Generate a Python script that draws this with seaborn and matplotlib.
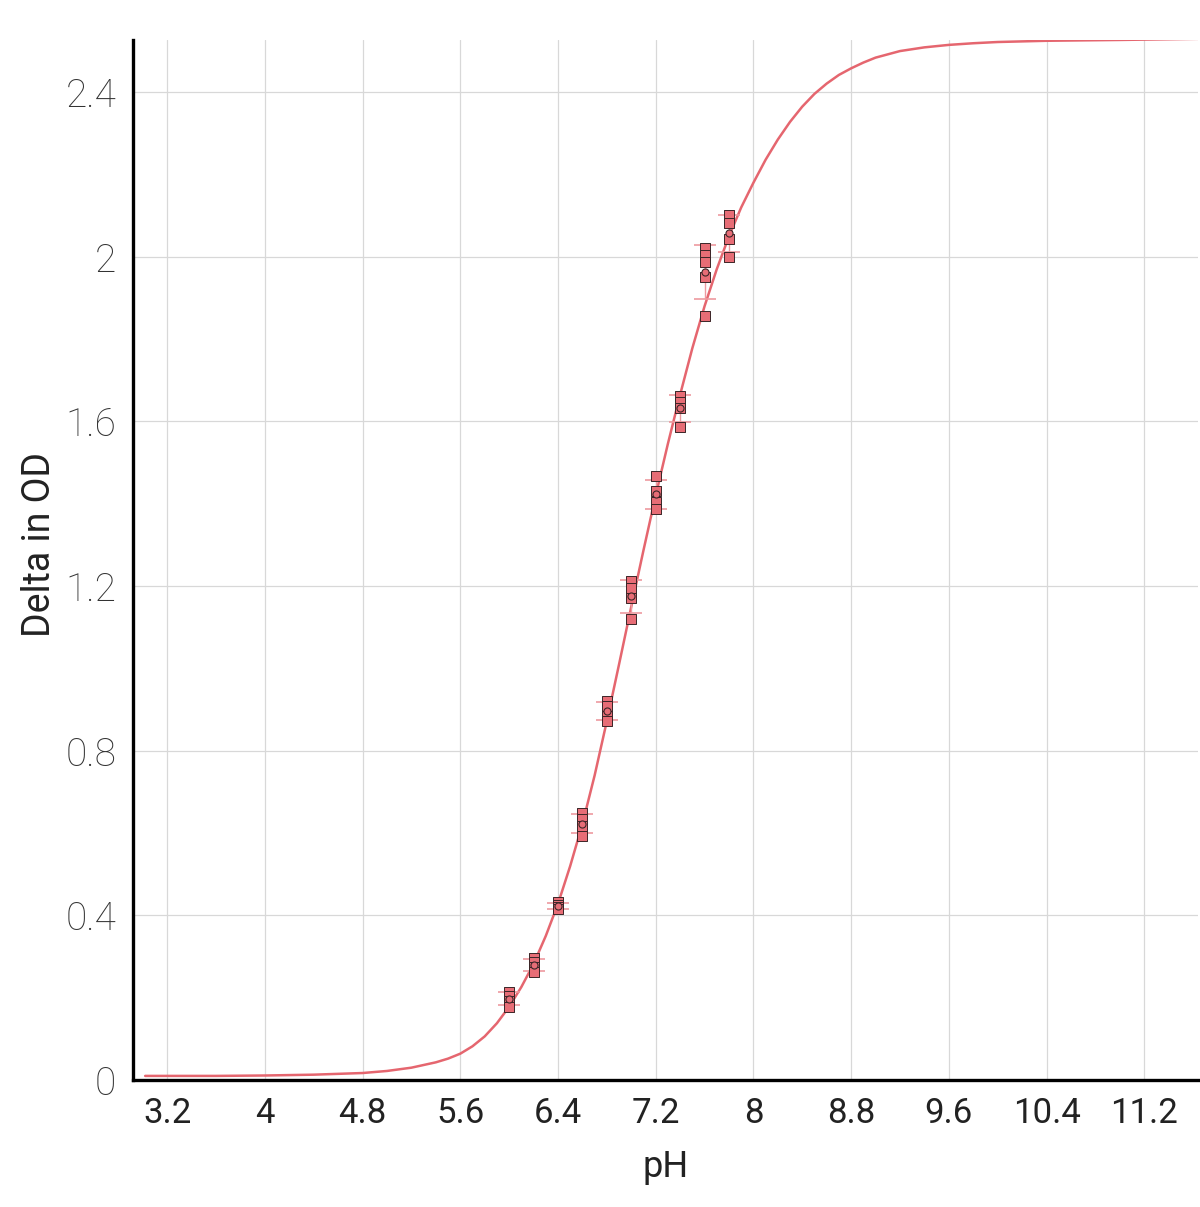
import numpy as np
import pandas as pd
import matplotlib
matplotlib.use("Agg")
import matplotlib.pyplot as plt
import seaborn as sns

# ---- data ----
ph_levels = [6.0, 6.2, 6.4, 6.6, 6.8, 7.0, 7.2, 7.4, 7.6, 7.8]
replicates = [
    [0.215, 0.205, 0.193, 0.178],
    [0.296, 0.287, 0.275, 0.262],
    [0.432, 0.426, 0.420, 0.416],
    [0.648, 0.634, 0.618, 0.592],
    [0.922, 0.908, 0.884, 0.872],
    [1.213, 1.195, 1.172, 1.120],
    [1.468, 1.430, 1.405, 1.388],
    [1.662, 1.648, 1.633, 1.586],
    [2.022, 2.004, 1.988, 1.950, 1.856],
    [2.102, 2.083, 2.043, 2.000],
]

curve_ph = [3.02, 3.6, 4.0, 4.4, 4.8, 5.0, 5.2, 5.4, 5.5, 5.6, 5.7, 5.8, 5.9,
            6.0, 6.1, 6.2, 6.3, 6.4, 6.5, 6.6, 6.7, 6.8, 6.9, 7.0, 7.1, 7.2,
            7.3, 7.4, 7.5, 7.6, 7.7, 7.8, 7.9, 8.0, 8.1, 8.2, 8.3, 8.4, 8.5,
            8.6, 8.7, 8.8, 8.9, 9.0, 9.2, 9.4, 9.6, 9.8, 10.0, 10.4, 11.0, 11.7]
curve_od = [0.010, 0.010, 0.011, 0.013, 0.017, 0.022, 0.030, 0.043, 0.052,
            0.064, 0.082, 0.106, 0.138, 0.178, 0.226, 0.282, 0.350, 0.428,
            0.520, 0.622, 0.740, 0.872, 1.010, 1.150, 1.287, 1.420, 1.546,
            1.665, 1.778, 1.880, 1.970, 2.050, 2.120, 2.180, 2.236, 2.285,
            2.328, 2.365, 2.396, 2.421, 2.442, 2.458, 2.472, 2.484, 2.500,
            2.509, 2.515, 2.519, 2.522, 2.525, 2.527, 2.530]

x_ticks = [3.2, 4.0, 4.8, 5.6, 6.4, 7.2, 8.0, 8.8, 9.6, 10.4, 11.2]
x_labels = ["3.2", "4", "4.8", "5.6", "6.4", "7.2", "8", "8.8", "9.6", "10.4", "11.2"]
y_ticks = [0, 0.4, 0.8, 1.2, 1.6, 2.0, 2.4]
y_labels = ["0", "0.4", "0.8", "1.2", "1.6", "2", "2.4"]

# ---- build tables ----
rows = []
for p, vals in zip(ph_levels, replicates):
    for v in vals:
        rows.append({"pH": p, "od": v})
df = pd.DataFrame(rows)
summary = df.groupby("pH")["od"].agg(["mean", "std"]).reset_index()
curve = pd.DataFrame({"pH": curve_ph, "od": curve_od})

sns.set_theme(style="white")
plt.rcParams["font.family"] = ["Roboto", "DejaVu Sans"]

red = "#e5666f"
edge = "#3b2527"

fig = plt.figure(figsize=(12, 12.07), dpi=100)
ax = fig.add_axes([0.1108, 0.1052, 0.8875, 0.8617])

ax.set_xlim(2.92, 11.64)
ax.set_ylim(0, 2.527)

ax.set_xticks(x_ticks)
ax.set_xticklabels(x_labels)
ax.set_yticks(y_ticks)
ax.set_yticklabels(y_labels)
ax.grid(True, color="#d8d8d8", linewidth=0.9)
ax.set_axisbelow(True)

sns.lineplot(data=curve, x="pH", y="od", ax=ax, color=red, linewidth=1.8,
             zorder=2, legend=False)

ax.errorbar(summary["pH"], summary["mean"], yerr=summary["std"], fmt="none",
            ecolor="#ee9aa0", elinewidth=1.0, capsize=8, capthick=1.2, zorder=3)

sns.scatterplot(data=df, x="pH", y="od", ax=ax, marker="s", s=42,
                color="#e76d76", edgecolor=edge, linewidth=0.7, zorder=4, legend=False)
ax.scatter(summary["pH"], summary["mean"], marker="o", s=26, color="#e76d76",
           edgecolor=edge, linewidth=0.8, zorder=5)

for s in ["top", "right"]:
    ax.spines[s].set_visible(False)
for s in ["left", "bottom"]:
    ax.spines[s].set_visible(True)
    ax.spines[s].set_color("black")
    ax.spines[s].set_linewidth(2.4)

ax.tick_params(axis="both", length=0)
ax.tick_params(axis="x", pad=12, labelsize=25, colors="#222222")
ax.tick_params(axis="y", pad=12, labelsize=28, colors="#333333")
for lab in ax.get_yticklabels():
    lab.set_fontweight("light")

ax.set_xlabel("pH", fontsize=26, color="#222222", labelpad=14)
ax.set_ylabel("Delta in OD", fontsize=27, color="#222222", labelpad=4)
ax.yaxis.set_label_coords(-0.07, 0.515)

fig.savefig("out.png", dpi=100)
